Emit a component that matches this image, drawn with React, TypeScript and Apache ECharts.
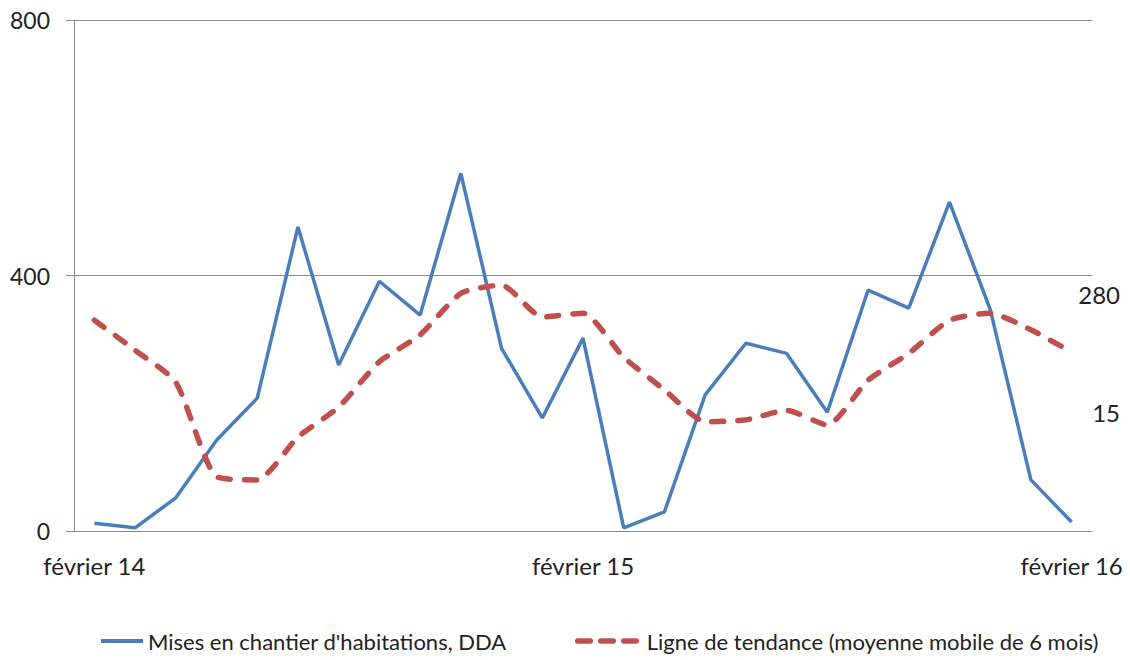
import React, { useEffect, useRef } from "react";
import * as echarts from "echarts";

const months: string[] = [
  "février 14", "mars 14", "avril 14", "mai 14", "juin 14", "juillet 14", "août 14", "septembre 14",
  "octobre 14", "novembre 14", "décembre 14", "janvier 15", "février 15", "mars 15", "avril 15",
  "mai 15", "juin 15", "juillet 15", "août 15", "septembre 15", "octobre 15", "novembre 15",
  "décembre 15", "janvier 16", "février 16",
];

const seriesNames: string[] = [
  "Mises en chantier d'habitations, DDA",
  "Ligne de tendance (moyenne mobile de 6 mois)",
];

const starts: number[] = [
  12, 5, 52, 142, 208, 476, 260, 391, 338, 560, 286, 177, 302,
  5, 30, 213, 294, 278, 186, 377, 349, 515, 347, 80, 14,
];

const trend: number[] = [
  330, 283, 233, 85, 80, 147, 194, 265, 307, 372, 385, 335, 341,
  272, 221, 171, 174, 189, 166, 236, 278, 330, 341, 315, 280,
];

const yTicks = { min: 0, max: 800, interval: 400 };

const annotations: { text: string; value: number }[] = [
  { text: "280", value: 370 },
  { text: "15", value: 185 },
];

const FONT = "Lato, 'Open Sans', sans-serif";

export default function App() {
  const ref = useRef<HTMLDivElement>(null);
  useEffect(() => {
    if (!ref.current) return;
    const chart = echarts.init(ref.current, undefined, { renderer: "svg" });
    const gridTop = 20;
    const gridBottomPx = 531;
    const toY = (v: number) =>
      gridBottomPx - ((v - yTicks.min) / (yTicks.max - yTicks.min)) * (gridBottomPx - gridTop);
    const legendText = { fontFamily: FONT, fontSize: 22, color: "#222" };
    chart.setOption({
      animation: false,
      backgroundColor: "#ffffff",
      grid: { left: 74, right: 38, top: gridTop, bottom: 660 - gridBottomPx, containLabel: false },
      xAxis: {
        type: "category",
        data: months,
        boundaryGap: true,
        axisLine: { show: true, lineStyle: { color: "#8a8a8a", width: 1 } },
        axisTick: { show: false },
        axisLabel: {
          interval: 11,
          margin: 22,
          fontFamily: FONT,
          fontSize: 24,
          color: "#222",
        },
        splitLine: { show: false },
      },
      yAxis: {
        type: "value",
        min: yTicks.min,
        max: yTicks.max,
        interval: yTicks.interval,
        axisLine: { show: true, lineStyle: { color: "#8a8a8a", width: 1 } },
        axisTick: { show: true, length: 8, inside: false, lineStyle: { color: "#8a8a8a" } },
        axisLabel: { margin: 24, fontFamily: FONT, fontSize: 23, color: "#222" },
        splitLine: { show: true, lineStyle: { color: "#8a8a8a", width: 1 } },
      },
      legend: [
        {
          data: [seriesNames[0]],
          left: 94,
          top: 625,
          itemWidth: 42,
          itemHeight: 14,
          itemStyle: { opacity: 0 },
          lineStyle: { width: 4, color: "#4a7ebb" },
          textStyle: legendText,
        },
        {
          data: [seriesNames[1]],
          left: 570,
          top: 625,
          itemWidth: 64,
          itemHeight: 14,
          itemStyle: { opacity: 0 },
          lineStyle: { width: 5.5, color: "#c0504d", type: [12.5, 10.5], cap: "round" },
          textStyle: legendText,
        },
      ],
      series: [
        {
          name: seriesNames[0],
          type: "line",
          data: starts,
          symbol: "none",
          lineStyle: { color: "#4a7ebb", width: 3.5 },
          itemStyle: { color: "#4a7ebb" },
        },
        {
          name: seriesNames[1],
          type: "line",
          data: trend,
          symbol: "none",
          smooth: 0.2,
          lineStyle: { color: "#c0504d", width: 5.5, type: [12, 14], cap: "round" },
          itemStyle: { color: "#c0504d" },
        },
      ],
      graphic: annotations.map((a) => ({
        type: "text",
        style: {
          text: a.text,
          x: 1120,
          y: toY(a.value),
          align: "right",
          verticalAlign: "middle",
          fontFamily: FONT,
          fontSize: 24,
          fill: "#222",
        },
      })),
    });
    return () => chart.dispose();
  }, []);
  return (
    <div
      ref={ref}
      style={{ position: "absolute", left: 0, top: 0, width: 1130, height: 660 }}
    />
  );
}
